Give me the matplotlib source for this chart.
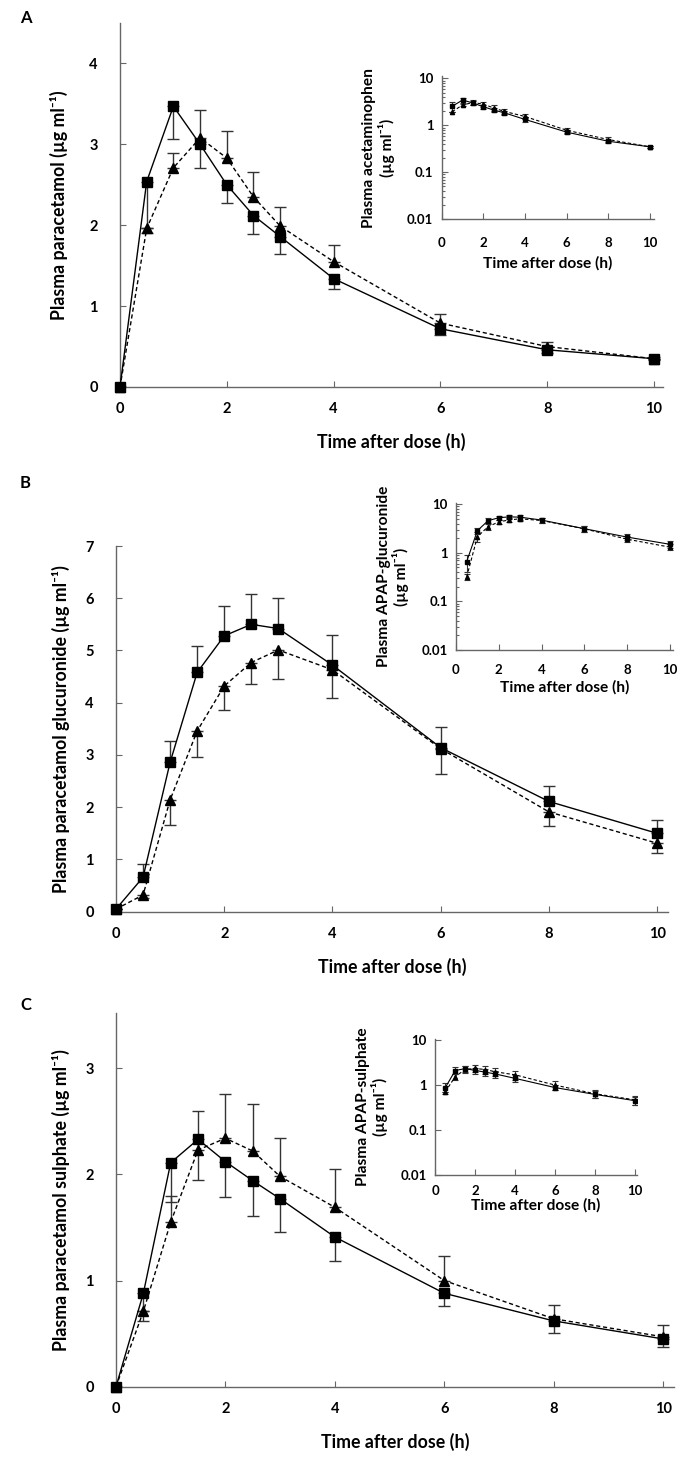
import matplotlib
matplotlib.use("Agg")
import matplotlib.pyplot as plt
import matplotlib.ticker as mticker
import numpy as np

plt.rcParams['font.family'] = ['Lato', 'DejaVu Sans']
plt.rcParams['font.weight'] = 'bold'

times = [0, 0.5, 1, 1.5, 2, 2.5, 3, 4, 6, 8, 10]

A_sq = [0, 2.54, 3.47, 3.0, 2.5, 2.12, 1.86, 1.34, 0.72, 0.46, 0.35]
A_sq_err = [0, 0.64, 0.41, 0.29, 0.23, 0.23, 0.21, 0.13, 0.08, 0.04, 0.02]
A_tri = [0, 1.96, 2.71, 3.08, 2.83, 2.35, 1.99, 1.55, 0.79, 0.50, 0.35]
A_tri_err = [0, 0, 0.18, 0.34, 0.33, 0.31, 0.24, 0.20, 0.11, 0.06, 0.02]

B_sq = [0.05, 0.66, 2.86, 4.58, 5.28, 5.50, 5.42, 4.72, 3.14, 2.11, 1.50]
B_sq_err = [0, 0.25, 0.41, 0.51, 0.57, 0.58, 0.58, 0.58, 0.40, 0.30, 0.25]
B_tri = [0.05, 0.32, 2.14, 3.46, 4.32, 4.77, 5.01, 4.63, 3.12, 1.91, 1.31]
B_tri_err = [0, 0.05, 0.49, 0.49, 0.45, 0.42, 0.56, 0.53, 0.48, 0.27, 0.19]

C_sq = [0, 0.88, 2.11, 2.33, 2.12, 1.94, 1.77, 1.41, 0.88, 0.62, 0.45]
C_sq_err = [0, 0.26, 0.37, 0.38, 0.33, 0.33, 0.31, 0.23, 0.12, 0.11, 0.08]
C_tri = [0, 0.71, 1.55, 2.23, 2.34, 2.22, 1.98, 1.69, 1.00, 0.64, 0.47]
C_tri_err = [0, 0, 0.25, 0.37, 0.42, 0.44, 0.36, 0.36, 0.23, 0.13, 0.11]

main_ylabels = ["Plasma paracetamol (µg ml⁻¹)",
                "Plasma paracetamol glucuronide (µg ml⁻¹)",
                "Plasma paracetamol sulphate (µg ml⁻¹)"]
inset_ylabels = ["Plasma acetaminophen\n(µg ml⁻¹)",
                 "Plasma APAP-glucuronide\n(µg ml⁻¹)",
                 "Plasma APAP-sulphate\n(µg ml⁻¹)"]
panel_letters = ["A", "B", "C"]
xlabel = "Time after dose (h)"

W, H = 699, 1464
fig = plt.figure(figsize=(W / 100, H / 100), dpi=100)

def ax_px(left, right, top, bottom):
    return fig.add_axes([left / W, 1 - bottom / H, (right - left) / W, (bottom - top) / H])

SPINE = '#666666'
ERRC = '#333333'

def style(ax, fs, ticklen, pad_x, pad_y):
    for s in ['top', 'right']:
        ax.spines[s].set_visible(False)
    for s in ['left', 'bottom']:
        ax.spines[s].set_color(SPINE)
        ax.spines[s].set_linewidth(1.0)
    ax.tick_params(axis='both', which='both', direction='in', color=SPINE, width=0.8)
    ax.tick_params(axis='both', which='major', length=ticklen, labelsize=fs)
    ax.tick_params(axis='x', pad=pad_x)
    ax.tick_params(axis='y', pad=pad_y)

def draw_series(ax, t, sq, sq_err, tri, tri_err, sq_dir, ms_sq, ms_tri, lw, cap, clip):
    sq = np.array(sq); tri = np.array(tri)
    sq_err = np.array(sq_err); tri_err = np.array(tri_err)
    z = np.zeros_like(sq_err)
    if sq_dir == 'down':
        sqe = [sq_err, z]; trie = [z, tri_err]
    elif sq_dir == 'up':
        sqe = [z, sq_err]; trie = [tri_err, z]
    else:
        sqe = [sq_err, sq_err]; trie = [tri_err, tri_err]
    ax.errorbar(t, sq, yerr=sqe, fmt='none', ecolor=ERRC, elinewidth=lw, capsize=cap, capthick=lw, zorder=2)
    ax.errorbar(t, tri, yerr=trie, fmt='none', ecolor=ERRC, elinewidth=lw, capsize=cap, capthick=lw, zorder=2)
    ax.plot(t, tri, linestyle=(0, (3, 2)), color='black', linewidth=lw, marker='^',
            markersize=ms_tri, markerfacecolor='black', markeredgecolor='black', zorder=3, clip_on=clip)
    ax.plot(t, sq, linestyle='-', color='black', linewidth=lw, marker='s',
            markersize=ms_sq, markerfacecolor='black', markeredgecolor='black', zorder=4, clip_on=clip)

main_geo = [
    (120, 663, 23, 387, 10.17, 4.5),
    (116, 668, 546, 911.7, 10.2, 7.0),
    (116, 674, 1013, 1386.7, 10.2, 3.52),
]
main_yticks = [[0, 1, 2, 3, 4], [0, 1, 2, 3, 4, 5, 6, 7], [0, 1, 2, 3]]
main_ylabelpad = [15, 11, 11]
inset_geo = [
    (441.7, 654, 76.5, 219.3, 10.2, 11.0),
    (456, 673, 503, 650, 10.15, 10.6),
    (435.3, 637, 1039, 1175, 10.1, 10.6),
]
inset_xpad = [13, 10, 7]
inset_xlabelpad = [5, 3, 1]
inset_minor = [True, True, False]
data = [
    (A_sq, A_sq_err, A_tri, A_tri_err, 'down'),
    (B_sq, B_sq_err, B_tri, B_tri_err, 'up'),
    (C_sq, C_sq_err, C_tri, C_tri_err, 'down'),
]
letter_y = [18, 483, 1005]

for i in range(3):
    sq, sqe, tri, trie, d = data[i]
    l, r, t, b, xmax, ymax = main_geo[i]
    ax = ax_px(l, r, t, b)
    draw_series(ax, times, sq, sqe, tri, trie, d, 7.3, 7.0, 1.0, 4, False)
    ax.set_xlim(0, xmax)
    ax.set_ylim(0, ymax)
    ax.set_xticks([0, 2, 4, 6, 8, 10])
    ax.set_yticks(main_yticks[i])
    style(ax, 10.5, 4.5, 11, 16)
    ax.set_ylabel(main_ylabels[i], fontsize=12.8, fontweight='bold', labelpad=main_ylabelpad[i])
    ax.set_xlabel(xlabel, fontsize=12.8, fontweight='bold', labelpad=12)
    fig.text(20 / W, 1 - letter_y[i] / H, panel_letters[i], fontsize=12, fontweight='bold',
             ha='left', va='center')

    l, r, t, b, xmax, ymax = inset_geo[i]
    ai = ax_px(l, r, t, b)
    draw_series(ai, times[1:], sq[1:], sqe[1:], tri[1:], trie[1:], 'both', 3.2, 3.0, 0.8, 2, True)
    ai.set_yscale('log')
    ai.set_xlim(0, xmax)
    ai.set_ylim(0.01, ymax)
    ai.set_xticks([0, 2, 4, 6, 8, 10])
    ai.yaxis.set_major_locator(mticker.FixedLocator([0.01, 0.1, 1, 10]))
    ai.yaxis.set_major_formatter(mticker.FixedFormatter(['0.01', '0.1', '1', '10']))
    if inset_minor[i]:
        ai.yaxis.set_minor_locator(mticker.LogLocator(base=10, subs=np.arange(2, 10)))
    else:
        ai.yaxis.set_minor_locator(mticker.NullLocator())
    ai.yaxis.set_minor_formatter(mticker.NullFormatter())
    style(ai, 9.5, 4, inset_xpad[i], 6)
    ai.tick_params(axis='y', which='minor', length=2.5)
    ai.set_ylabel(inset_ylabels[i], fontsize=11.2, fontweight='bold', labelpad=9, linespacing=1.1)
    ai.set_xlabel(xlabel, fontsize=11.2, fontweight='bold', labelpad=inset_xlabelpad[i])

fig.savefig("out.png", dpi=100, facecolor='white')
